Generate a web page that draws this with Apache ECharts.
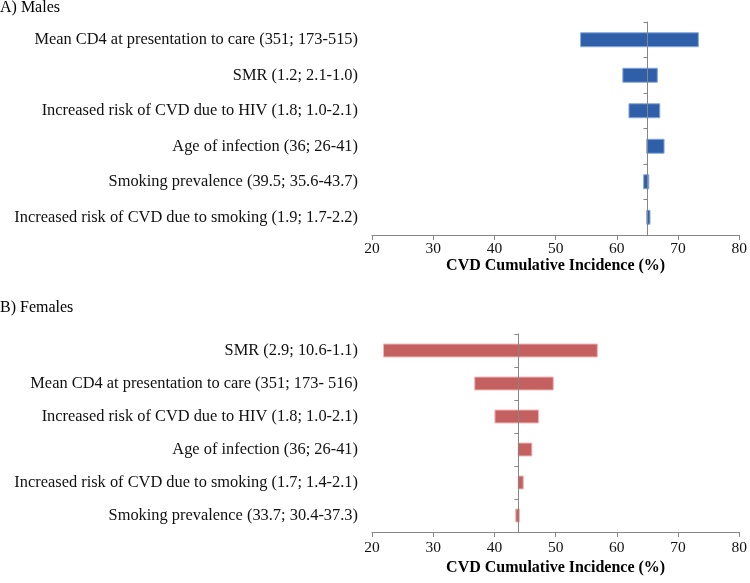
<!DOCTYPE html>
<html>
<head>
<meta charset="utf-8">
<script src="https://cdn.jsdelivr.net/npm/echarts@6/dist/echarts.min.js"></script>
<style>
  body { margin: 0; background: #fff; }
  #main { width: 750px; height: 583px; }
</style>
</head>
<body>
<div id="main"></div>
<script>
// A) Males
var maleLabels = [
  'Mean CD4 at presentation to care (351; 173-515)',
  'SMR (1.2; 2.1-1.0)',
  'Increased risk of CVD due to HIV (1.8; 1.0-2.1)',
  'Age of infection (36; 26-41)',
  'Smoking prevalence (39.5; 35.6-43.7)',
  'Increased risk of CVD due to smoking (1.9; 1.7-2.2)'
]
var maleLow = [54.0, 60.9, 61.9, 64.8, 64.3, 64.8]
var maleHigh = [73.4, 66.7, 67.1, 67.8, 65.3, 65.5]
var maleBase = 64.8

// B) Females
var femaleLabels = [
  'SMR (2.9; 10.6-1.1)',
  'Mean CD4 at presentation to care (351; 173- 516)',
  'Increased risk of CVD due to HIV (1.8; 1.0-2.1)',
  'Age of infection (36; 26-41)',
  'Increased risk of CVD due to smoking (1.7; 1.4-2.1)',
  'Smoking prevalence (33.7; 30.4-37.3)'
]
var femaleLow = [21.8, 36.7, 40.0, 43.8, 43.8, 43.4]
var femaleHigh = [56.9, 49.7, 47.3, 46.2, 44.8, 44.2]
var femaleBase = 43.8

var xMin = 20
var xMax = 80
var xStep = 10

var font = 'Liberation Serif'
var axisGray = '#868686'
var gridLeft = 372
var gridWidth = 369

function spans(low, high) {
  return high.map(function (h, i) { return +(h - low[i]).toFixed(2) })
}

// pixel offset that puts the crossing axis at the base value
function baseOffset(base) {
  return -(base - xMin) / (xMax - xMin) * gridWidth
}

function xAxisFor(idx, labelMargin, nameGap) {
  return {
    gridIndex: idx,
    type: 'value',
    min: xMin,
    max: xMax,
    interval: xStep,
    name: 'CVD Cumulative Incidence (%)',
    nameLocation: 'middle',
    nameGap: nameGap,
    nameTextStyle: { fontFamily: font, fontSize: 16, fontWeight: 'bold', color: '#000' },
    axisLine: { show: true, lineStyle: { color: axisGray, width: 1 } },
    axisTick: { show: true, length: 5, lineStyle: { color: axisGray } },
    axisLabel: { fontFamily: font, fontSize: 15.5, color: '#111', margin: labelMargin },
    splitLine: { show: false }
  }
}

function labelAxis(idx, labels) {
  return {
    gridIndex: idx,
    type: 'category',
    data: labels,
    inverse: true,
    axisLine: { show: false },
    axisTick: { show: false },
    axisLabel: { fontFamily: font, fontSize: 16.4, color: '#111', margin: 14 }
  }
}

function baseAxis(idx, labels, base) {
  return {
    gridIndex: idx,
    type: 'category',
    data: labels,
    inverse: true,
    position: 'left',
    offset: baseOffset(base),
    z: 5,
    axisLine: { show: true, lineStyle: { color: axisGray, width: 1 } },
    axisTick: { show: true, length: 4, lineStyle: { color: axisGray } },
    axisLabel: { show: false }
  }
}

function barPair(idx, axisIdx, low, high, fill, edge, barW) {
  return [{
    type: 'bar',
    xAxisIndex: idx,
    yAxisIndex: axisIdx,
    stack: 'p' + idx,
    data: low,
    barWidth: barW,
    silent: true,
    itemStyle: { color: 'transparent' }
  }, {
    type: 'bar',
    xAxisIndex: idx,
    yAxisIndex: axisIdx,
    stack: 'p' + idx,
    data: spans(low, high),
    barWidth: barW,
    itemStyle: { color: fill, borderColor: edge, borderWidth: 1 }
  }]
}

var chart = echarts.init(document.getElementById('main'))
var option = {
  animation: false,
  backgroundColor: '#fff',
  title: [{
    text: 'A) Males',
    left: 0,
    top: 0,
    padding: 0,
    textStyle: { fontFamily: font, fontSize: 16, fontWeight: 'normal', color: '#000' }
  }, {
    text: 'B) Females',
    left: 0,
    top: 300,
    padding: 0,
    textStyle: { fontFamily: font, fontSize: 16, fontWeight: 'normal', color: '#000' }
  }],
  grid: [
    { left: gridLeft, width: gridWidth, top: 22, height: 213 },
    { left: gridLeft, width: gridWidth, top: 334, height: 198 }
  ],
  xAxis: [
    xAxisFor(0, 6, 19),
    xAxisFor(1, 8, 28)
  ],
  yAxis: [
    labelAxis(0, maleLabels),
    baseAxis(0, maleLabels, maleBase),
    labelAxis(1, femaleLabels),
    baseAxis(1, femaleLabels, femaleBase)
  ],
  series: [].concat(
    barPair(0, 0, maleLow, maleHigh, '#2F5FA8', '#86A9DC', 15),
    barPair(1, 2, femaleLow, femaleHigh, '#C46060', '#F2B8B8', 14)
  )
}
chart.setOption(option)
</script>
</body>
</html>
